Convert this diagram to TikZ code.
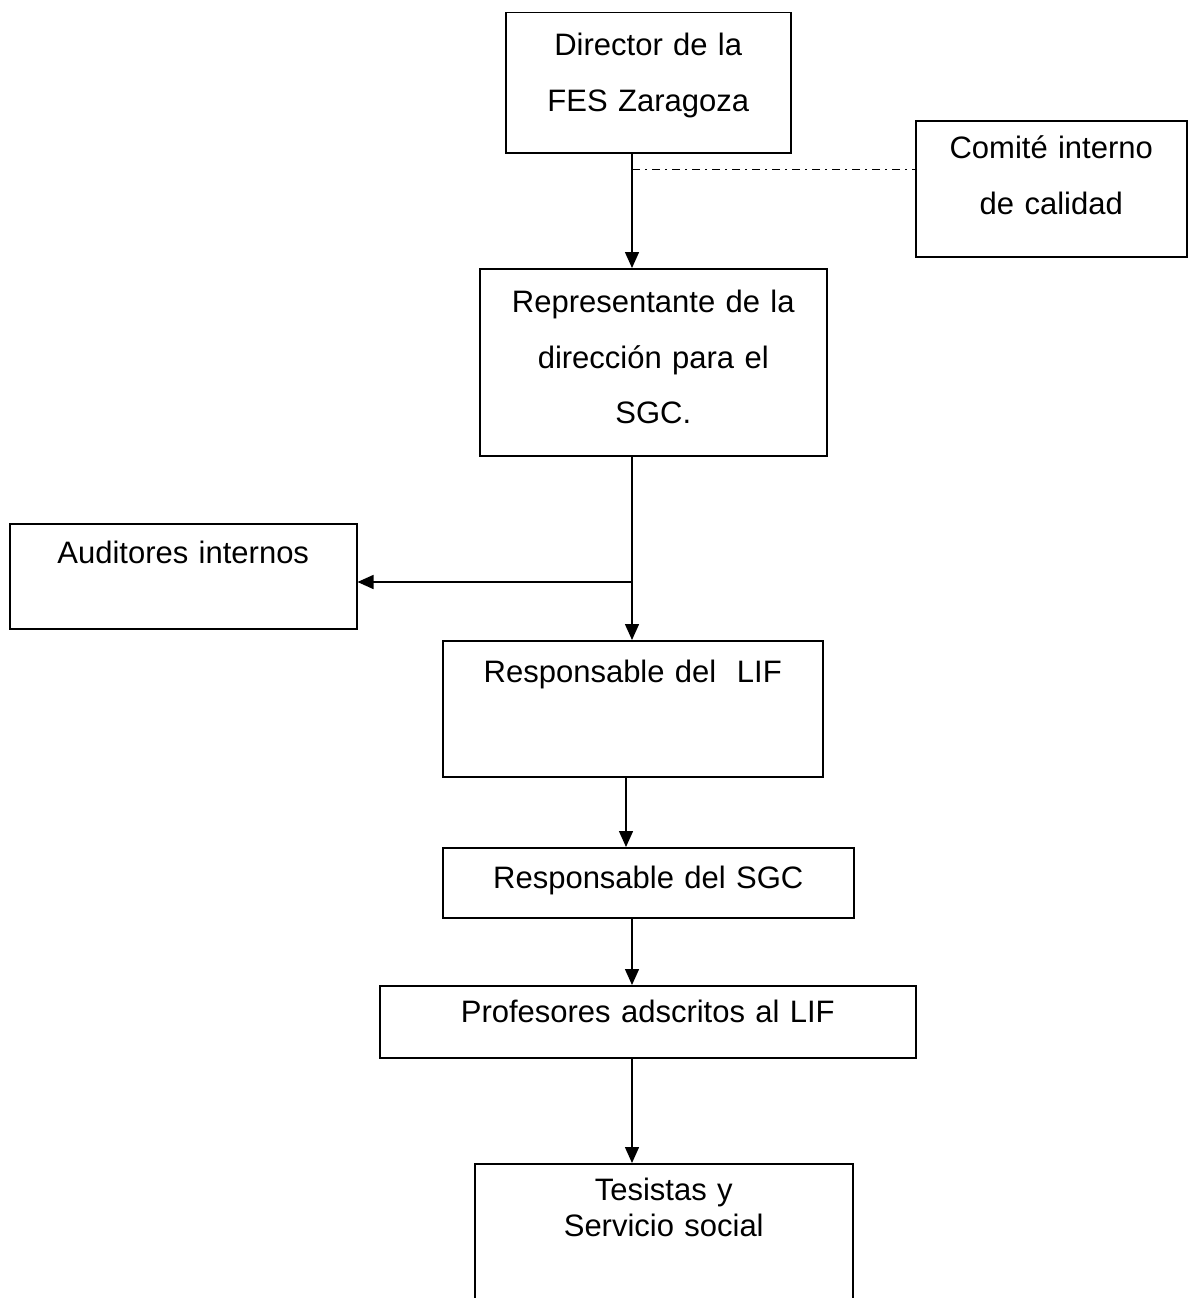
\documentclass[tikz,border=0pt]{standalone}
\usepackage{fontspec}
\setmainfont{Liberation Sans}
\usepackage{tikz}
\usetikzlibrary{arrows.meta, positioning}
\tikzset{
  orgbox/.style={rectangle,draw=black,line width=1.5pt,inner sep=0pt,anchor=north west,align=center},
  widetxt/.style={font=\fontsize{31}{55.5}\selectfont},
  tighttxt/.style={font=\fontsize{31}{36}\selectfont},
  link/.style={-{Triangle[length=16pt,width=14pt]},line width=1.5pt},
  dashdot/.style={line width=1pt,dash pattern=on 8pt off 5pt on 2pt off 5pt}
}

\begin{document}
\begin{tikzpicture}[x=1pt,y=-1pt]
  \useasboundingbox (0,0) rectangle (1188,1298);

  %% Top of the chart
  \node[orgbox,widetxt,minimum width=285pt,text width=285pt,minimum height=140pt,
        text height=43pt,text depth=97pt] (dir) at (505,12)
      {Director de la\\FES Zaragoza};
  \node[orgbox,widetxt,minimum width=271pt,text width=271pt,minimum height=136pt,
        text height=38pt,text depth=98pt] (comite) at (915,120)
      {Comité interno\\de calidad};
  \node[orgbox,widetxt,minimum width=347pt,text width=347pt,minimum height=187pt,
        text height=44pt,text depth=143pt] (rep) at (479,268)
      {Representante de la\\dirección para el\\SGC.};

  %% Middle
  \node[orgbox,tighttxt,minimum width=347pt,text width=347pt,minimum height=105pt,
        text height=40pt,text depth=65pt] (aud) at (9,523)
      {Auditores internos};
  \node[orgbox,tighttxt,minimum width=380pt,text width=380pt,minimum height=136pt,
        text height=42pt,text depth=94pt] (lif) at (442,640)
      {Responsable del\ \ LIF};
  \node[orgbox,tighttxt,minimum width=411pt,text width=411pt,minimum height=70pt,
        text height=41pt,text depth=29pt] (sgc) at (442,847)
      {Responsable del SGC};

  %% Bottom
  \node[orgbox,tighttxt,minimum width=536pt,text width=536pt,minimum height=72pt,
        text height=37pt,text depth=35pt] (prof) at (379,985)
      {Profesores adscritos al LIF};
  \node[orgbox,tighttxt,minimum width=378pt,text width=378pt,minimum height=150pt,
        text height=37pt,text depth=113pt] (tes) at (474,1163)
      {Tesistas y\\Servicio social};

  %% Connectors
  \coordinate (spine) at (632,0);
  \coordinate (spineb) at (626,0);
  \coordinate (tap) at (632,169);
  \coordinate (branch) at (632,582);
  \draw[link] (spine |- dir.south) -- (spine |- rep.north);
  \draw[dashdot] (tap) -- (tap -| comite.west);
  \draw[link] (spine |- rep.south) -- (spine |- lif.north);
  \draw[link] (branch) -- (branch -| aud.east);
  \draw[link] (spineb |- lif.south) -- (spineb |- sgc.north);
  \draw[link] (spine |- sgc.south) -- (spine |- prof.north);
  \draw[link] (spine |- prof.south) -- (spine |- tes.north);
\end{tikzpicture}
\end{document}
